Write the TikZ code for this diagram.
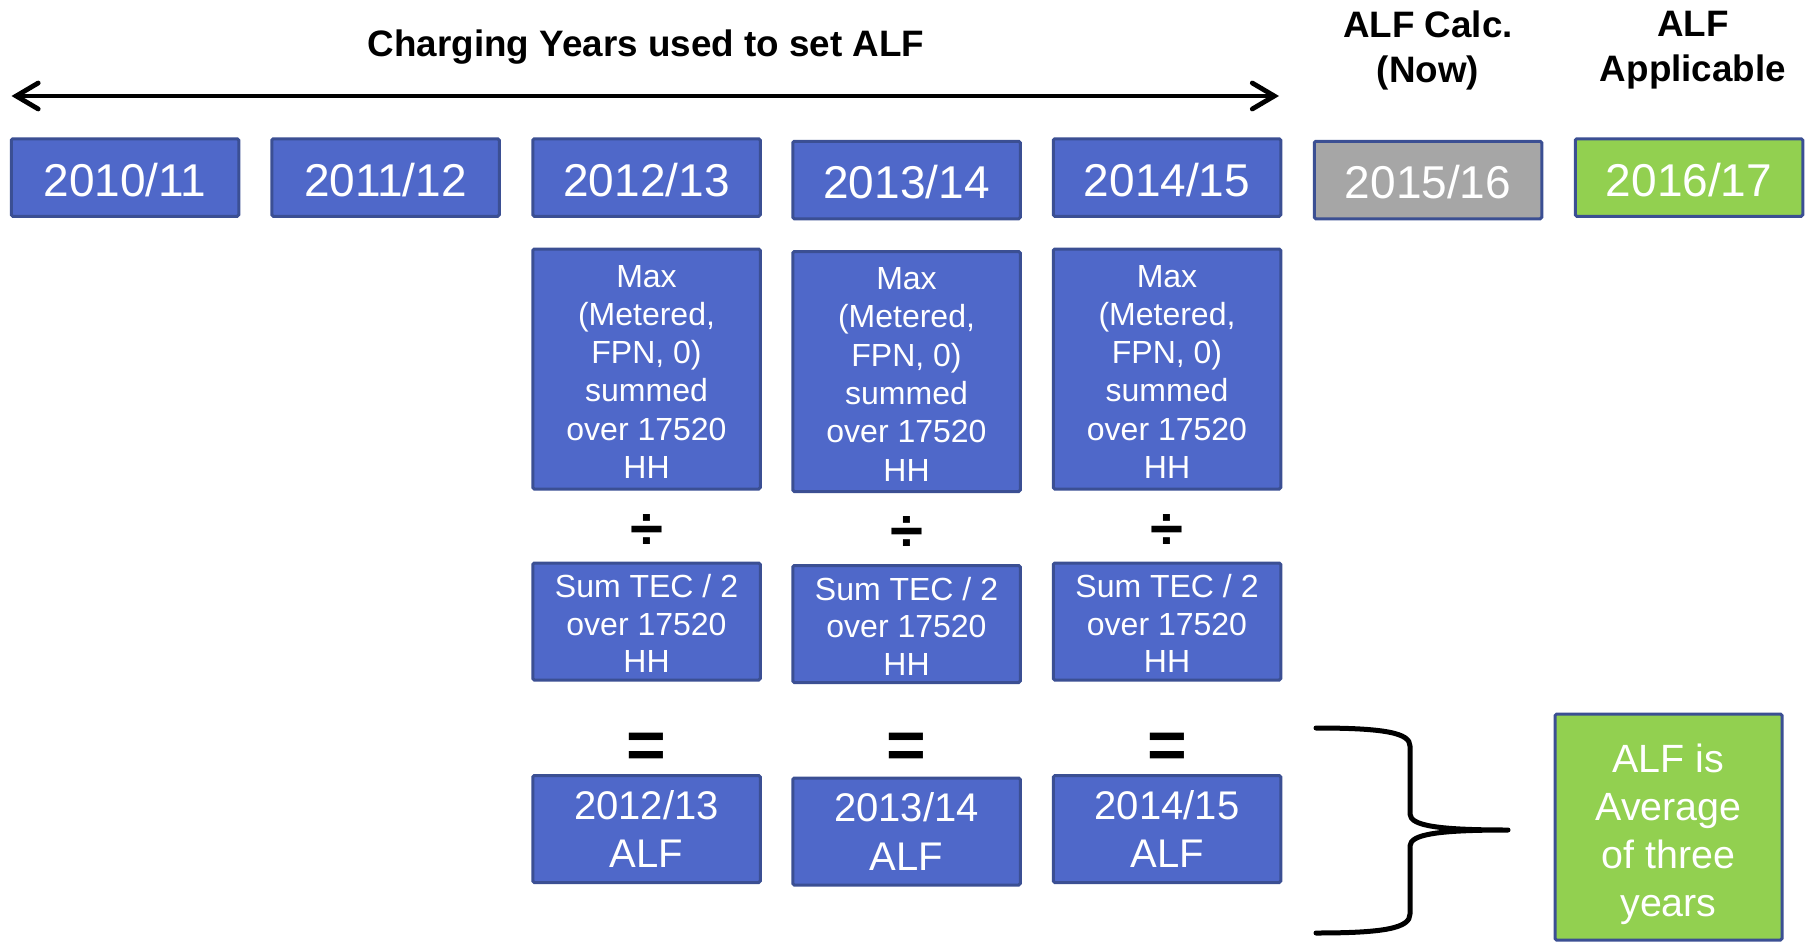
\documentclass[tikz,border=0pt]{standalone}
\usepackage{fontspec}
\setmainfont{Liberation Sans}
\usetikzlibrary{arrows.meta}
\definecolor{boxblue}{RGB}{79,104,201}
\definecolor{edgeblue}{RGB}{59,79,147}
\definecolor{calcgray}{RGB}{166,166,166}
\definecolor{applgreen}{RGB}{146,208,80}
\newcommand{\lowered}[1]{\rule{0pt}{#1}}

\begin{document}
\begin{tikzpicture}[x=0.5pt,y=-0.5pt,
		yearbox/.style={draw=edgeblue,line width=1.5pt,fill=boxblue,text=white,rounded corners=0.8pt,
			inner sep=0pt,minimum width=113.75pt,minimum height=38.75pt,font=\fontsize{23}{28}\selectfont},
		maxbox/.style={yearbox,align=center,minimum height=120pt,font=\fontsize{16}{19.15}\selectfont},
		sumbox/.style={yearbox,align=center,minimum height=58.5pt,font=\fontsize{16}{18.75}\selectfont},
		alfbox/.style={yearbox,align=center,minimum height=53.5pt,font=\fontsize{20}{24.25}\selectfont},
		heading/.style={align=center,font=\fontsize{18.4}{22.5}\selectfont\bfseries},
		opsign/.style={inner sep=0pt,font=\fontsize{34}{34}\selectfont\bfseries}]
		\useasboundingbox (0,0) rectangle (1810,942);
	
		\node[heading] (charging) at (646,47) {Charging Years used to set ALF};
		\node[heading] (calcnow) at (1428,50) {ALF Calc.\\(Now)};
		\node[heading] (applicable) at (1693,50) {ALF\\Applicable};
		
		\coordinate (arrowleft) at (11.5,96);
		\coordinate (arrowright) at (1279,96);
		\draw[line width=2.4pt,{Straight Barb[length=11pt,width=13pt,line cap=round]}-{Straight Barb[length=11pt,width=13pt,line cap=round]}] (arrowleft) -- (arrowright);
		
		\node[yearbox] (y1011) at (125,177.5) {\lowered{19pt}2010/11};
		\node[yearbox] (y1112) at (385.5,177.5) {\lowered{19pt}2011/12};
		\node[yearbox] (y1213) at (646.5,177.5) {\lowered{19pt}2012/13};
		\node[yearbox] (y1314) at (906.5,180) {\lowered{19pt}2013/14};
		\node[yearbox] (y1415) at (1167,177.5) {\lowered{19pt}2014/15};
		\node[yearbox,fill=calcgray] (y1516) at (1428,180) {\lowered{19pt}2015/16};
		\node[yearbox,fill=applgreen] (y1617) at (1689,177.5) {\lowered{19pt}2016/17};
		
		\node[maxbox] (max1213) at (646.5,369) {\lowered{13.8pt}Max\\(Metered,\\FPN, 0)\\summed\\over 17520\\HH};
		\node[maxbox] (max1314) at (906.5,371.5) {\lowered{13.8pt}Max\\(Metered,\\FPN, 0)\\summed\\over 17520\\HH};
		\node[maxbox] (max1415) at (1167,369) {\lowered{13.8pt}Max\\(Metered,\\FPN, 0)\\summed\\over 17520\\HH};
		
		\node[opsign,font=\fontsize{30}{30}\selectfont\bfseries] (div1213) at (646.5,532) {÷};
		\node[opsign,font=\fontsize{30}{30}\selectfont\bfseries] (div1314) at (906.5,534) {÷};
		\node[opsign,font=\fontsize{30}{30}\selectfont\bfseries] (div1415) at (1167,532) {÷};
		
		\node[sumbox] (sum1213) at (646.5,621.5) {\lowered{13.5pt}Sum TEC / 2\\over 17520\\HH};
		\node[sumbox] (sum1314) at (906.5,624) {\lowered{13.5pt}Sum TEC / 2\\over 17520\\HH};
		\node[sumbox] (sum1415) at (1167,621.5) {\lowered{13.5pt}Sum TEC / 2\\over 17520\\HH};
		
		\node[opsign] (eq1213) at (646.5,751) {=};
		\node[opsign] (eq1314) at (906.5,751) {=};
		\node[opsign] (eq1415) at (1167,751) {=};
		
		\node[alfbox] (alf1213) at (646.5,829) {2012/13\\ALF};
		\node[alfbox] (alf1314) at (906.5,831.5) {2013/14\\ALF};
		\node[alfbox] (alf1415) at (1167,829) {2014/15\\ALF};
		
		% brace over the three ALF results
		\coordinate (bracetop) at (1316,728);
		\coordinate (bracetip) at (1508,830);
		\coordinate (bracebottom) at (1316,933);
		\draw[line width=2.5pt,line cap=round,line join=round] (bracetop) .. controls (1385,728) and (1410,733) .. (1410,746) -- (1410,814)
			.. controls (1410,826) and (1440,830) .. (bracetip)
			.. controls (1440,830) and (1410,834) .. (1410,846) -- (1410,914)
			.. controls (1410,928) and (1385,933) .. (bracebottom);
		
		\node[alfbox,fill=applgreen,minimum width=113.5pt,minimum height=113pt,font=\fontsize{19.7}{24}\selectfont]
			(average) at (1668.5,827) {\lowered{21.3pt}ALF is\\Average\\of three\\years};
	\end{tikzpicture}
\end{document}
